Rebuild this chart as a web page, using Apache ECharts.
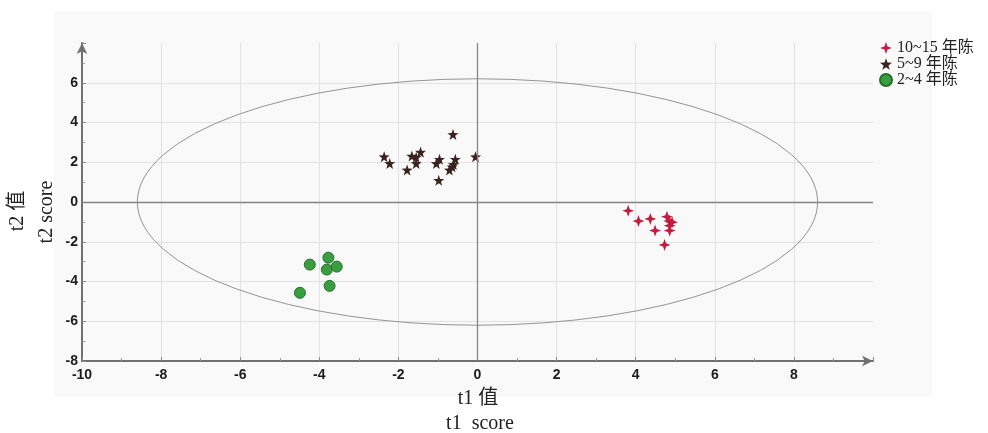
<!DOCTYPE html>
<html><head><meta charset="utf-8">
<script src="https://cdn.jsdelivr.net/npm/echarts@6/dist/echarts.min.js"></script>
<style>html,body{margin:0;padding:0;background:#fff}#c{width:988px;height:433px}</style>
</head><body><div id="c"></div>
<script>
const seriesNames = ['10~15 年陈', '5~9 年陈', '2~4 年陈'];
// [t1, t2]
const group1015 = [[3.81,-0.44],[4.07,-0.96],[4.37,-0.85],[4.79,-0.74],[4.85,-0.96],[4.92,-1.02],[4.86,-1.19],[4.86,-1.44],[4.49,-1.44],[4.73,-2.16]];
const group59 = [[-0.62,3.40],[-2.36,2.28],[-2.22,1.94],[-1.66,2.31],[-1.44,2.51],[-1.55,2.25],[-1.55,1.94],[-1.78,1.61],[-0.96,2.15],[-1.04,1.94],[-0.56,2.15],[-0.61,1.89],[-0.64,1.77],[-0.71,1.61],[-0.98,1.09],[-0.05,2.28]];
const group24 = [[-4.24,-3.15],[-3.77,-2.80],[-3.81,-3.40],[-3.56,-3.25],[-3.74,-4.22],[-4.49,-4.57]];
// confidence ellipse: [centre t1, centre t2, semi-axis t1, semi-axis t2]
const ellipse = [[0, 0, 8.6, 6.2]];
const xAxisName = ['t1 值', 't1  score'];
const yAxisName = ['t2 值', 't2 score'];

const crossPath = 'path://M0,-10 L2.6,-2.6 L10,0 L2.6,2.6 L0,10 L-2.6,2.6 L-10,0 L-2.6,-2.6 Z';
const starPath = 'path://M0,-10 L2.35,-3.24 L9.51,-3.09 L3.8,1.24 L5.88,8.09 L0,4 L-5.88,8.09 L-3.8,1.24 L-9.51,-3.09 L-2.35,-3.24 Z';
const colors = ['#c21c3e', '#3a221f', '#3a9e40'];
const tickFont = {fontFamily: 'Liberation Sans', fontWeight: 'bold', fontSize: 14, color: '#1c1c1c'};
const serif = 'Liberation Serif, Noto Sans CJK SC';

const chart = echarts.init(document.getElementById('c'));
chart.setOption({
  animation: false,
  backgroundColor: '#ffffff',
  grid: {left: 82, right: 115, top: 43, bottom: 72, containLabel: false},
  graphic: [
    {type: 'rect', z: -10, silent: true, shape: {x: 54, y: 11, width: 878, height: 386}, style: {fill: '#f9f9f9'}},
    {type: 'text', x: 478, y: 399, silent: true, style: {text: xAxisName[0], align: 'center', verticalAlign: 'middle', font: '20px ' + serif, fill: '#222'}},
    {type: 'text', x: 480, y: 424, silent: true, style: {text: xAxisName[1], align: 'center', verticalAlign: 'middle', font: '20px ' + serif, fill: '#222'}},
    {type: 'text', x: 18, y: 211, rotation: Math.PI / 2, silent: true, style: {text: yAxisName[0], align: 'center', verticalAlign: 'middle', font: '20px ' + serif, fill: '#222'}},
    {type: 'text', x: 47, y: 212, rotation: Math.PI / 2, silent: true, style: {text: yAxisName[1], align: 'center', verticalAlign: 'middle', font: '20px ' + serif, fill: '#222'}}
  ],
  legend: {
    orient: 'vertical', left: 874, top: 35, itemWidth: 12, itemHeight: 12, itemGap: 0,
    textStyle: {fontFamily: serif, fontSize: 16, lineHeight: 16, color: '#222', padding: [0, 0, 0, 0]},
    data: [
      {name: seriesNames[0], icon: crossPath},
      {name: seriesNames[1], icon: starPath},
      {name: seriesNames[2], icon: 'circle'}
    ]
  },
  xAxis: {
    type: 'value', min: -10, max: 10, interval: 2,
    axisLine: {show: true, onZero: false, lineStyle: {color: '#707070', width: 2}, symbol: ['none', 'arrow'], symbolSize: [8, 11]},
    axisTick: {show: true, inside: true, length: 4, lineStyle: {color: '#888'}},
    minorTick: {show: true, splitNumber: 2, length: 3, lineStyle: {color: '#999'}},
    axisLabel: Object.assign({margin: 7, showMaxLabel: false}, tickFont),
    splitLine: {show: true, showMaxLine: false, showMinLine: false, lineStyle: {color: '#e2e2e2', width: 1}}
  },
  yAxis: {
    type: 'value', min: -8, max: 8, interval: 2,
    axisLine: {show: true, onZero: false, lineStyle: {color: '#707070', width: 2}, symbol: ['none', 'arrow'], symbolSize: [8, 11]},
    axisTick: {show: true, inside: true, length: 4, lineStyle: {color: '#888'}},
    minorTick: {show: true, splitNumber: 2, length: 3, lineStyle: {color: '#999'}},
    axisLabel: Object.assign({margin: 4, showMaxLabel: false}, tickFont),
    splitLine: {show: true, showMaxLine: false, showMinLine: false, lineStyle: {color: '#e2e2e2', width: 1}}
  },
  series: [
    {
      type: 'custom', name: 'ellipse', silent: true, z: 1,
      data: ellipse, encode: {x: 0, y: 1},
      renderItem: function (params, api) {
        const c = api.coord([api.value(0), api.value(1)]);
        const s = api.size([api.value(2), api.value(3)]);
        const rx = s[0], ry = s[1];
        return {
          type: 'path',
          shape: {pathData: `M${c[0] - rx},${c[1]} A${rx},${ry} 0 1 0 ${c[0] + rx},${c[1]} A${rx},${ry} 0 1 0 ${c[0] - rx},${c[1]} Z`},
          style: {fill: 'none', stroke: '#949494', lineWidth: 1}
        };
      }
    },
    {
      type: 'scatter', name: seriesNames[0], data: group1015, symbol: crossPath, symbolSize: 12, z: 3,
      itemStyle: {color: colors[0], opacity: 1}
    },
    {
      type: 'scatter', name: seriesNames[1], data: group59, z: 3,
      symbol: starPath, symbolSize: 11, itemStyle: {color: colors[1], opacity: 1}
    },
    {
      type: 'scatter', name: seriesNames[2], data: group24, symbol: 'circle', symbolSize: 11, z: 3,
      itemStyle: {color: colors[2], borderColor: '#22702a', borderWidth: 1, opacity: 1},
      markLine: {
        silent: true, symbol: 'none', label: {show: false}, animation: false,
        lineStyle: {color: '#858585', width: 1.3, type: 'solid'},
        data: [{xAxis: 0}, {yAxis: 0}]
      }
    }
  ]
});
</script></body></html>
